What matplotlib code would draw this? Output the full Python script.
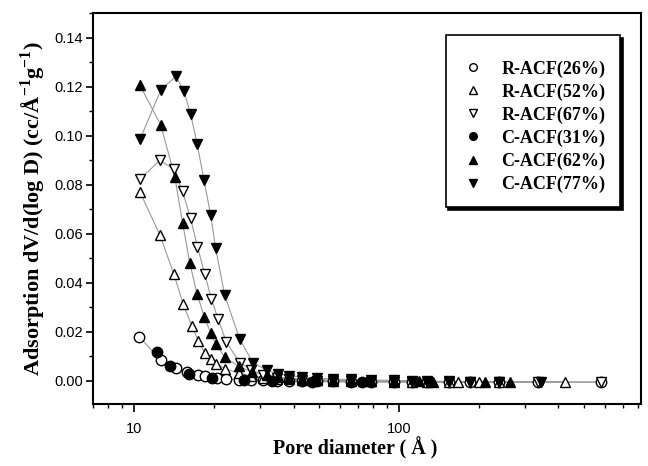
import matplotlib
matplotlib.use("Agg")
import matplotlib.pyplot as plt
from matplotlib.lines import Line2D
from matplotlib.ticker import NullFormatter, LogLocator, FormatStrFormatter, MultipleLocator

plt.rcParams["mathtext.fontset"] = "custom"
plt.rcParams["mathtext.rm"] = "Liberation Serif"
plt.rcParams["mathtext.bf"] = "Liberation Serif:bold"

# ---------------- data ----------------
labels = ["R-ACF(26%)", "R-ACF(52%)", "R-ACF(67%)", "C-ACF(31%)", "C-ACF(62%)", "C-ACF(77%)"]

r26_x = [10.47, 12.6, 14.4, 15.8, 17.45, 18.5, 20.5, 22.2, 24.9, 27.7, 30.6, 34.7, 38.4, 42.9,
         49.0, 56.2, 65.8, 78.3, 95.8, 112.0, 128.0, 154.0, 186.0, 238.0, 334.0, 578.0]
r26_y = [0.0180, 0.0083, 0.0052, 0.0034, 0.0024, 0.0018, 0.0011, 0.0007, 0.0004, 0.0002, 0.0001,
         0.0000, -0.0001, -0.0002, -0.0003, -0.0003, -0.0004, -0.0004, -0.0005, -0.0005, -0.0005,
         -0.0005, -0.0005, -0.0005, -0.0005, -0.0005]

r52_x = [10.53, 12.52, 14.14, 15.32, 16.52, 17.51, 18.48, 19.52, 20.46, 22.12, 24.89, 27.7, 30.6,
         34.7, 38.4, 42.9, 49.0, 56.2, 65.8, 78.3, 95.8, 112.0, 128.0, 154.0, 167.0, 200.0, 238.0, 424.0]
r52_y = [0.0770, 0.0594, 0.0435, 0.0313, 0.0224, 0.0160, 0.0115, 0.0088, 0.0069, 0.0048, 0.0031,
         0.0020, 0.0012, 0.0008, 0.0005, 0.0003, 0.0001, 0.0000, -0.0002, -0.0003, -0.0004, -0.0004,
         -0.0005, -0.0005, -0.0005, -0.0005, -0.0005, -0.0005]

r67_x = [10.53, 12.52, 14.14, 15.25, 16.34, 17.36, 18.48, 19.59, 20.74, 22.31, 25.04, 27.71, 30.63,
         34.69, 38.35, 42.93, 49.05, 56.15, 65.84, 78.29, 95.8, 112.0, 128.0, 154.0, 186.0, 238.0,
         334.0, 578.0]
r67_y = [0.0822, 0.0899, 0.0862, 0.0773, 0.0662, 0.0547, 0.0435, 0.0334, 0.0252, 0.0158, 0.0074,
         0.0045, 0.0024, 0.0011, 0.0007, 0.0004, 0.0000, -0.0003, -0.0003, -0.0005, -0.0005, -0.0006,
         -0.0006, -0.0006, -0.0006, -0.0006, -0.0006, -0.0006]

c31_x = [12.17, 13.66, 16.14, 19.64, 25.92, 33.22, 46.97, 72.3]
c31_y = [0.0117, 0.0062, 0.0028, 0.0011, 0.0004, 0.0000, -0.0004, -0.0005]

c62_x = [10.53, 12.63, 14.26, 15.25, 16.24, 17.30, 18.44, 19.47, 20.33, 21.98, 24.89, 28.0, 31.8,
         35.0, 38.5, 43.0, 49.0, 56.2, 65.8, 78.3, 95.8, 119.0, 135.0, 212.0, 263.0]
c62_y = [0.1205, 0.1042, 0.0831, 0.0644, 0.0479, 0.0353, 0.0259, 0.0194, 0.0151, 0.0096, 0.0058,
         0.0035, 0.0022, 0.0015, 0.0010, 0.0007, 0.0004, 0.0002, 0.0001, 0.0000, -0.0002, -0.0003,
         -0.0004, -0.0005, -0.0005]

c77_x = [10.53, 12.63, 14.38, 15.42, 16.34, 17.30, 18.37, 19.47, 20.33, 21.98, 25.04, 28.09, 31.82,
         34.99, 38.5, 43.0, 49.0, 56.2, 65.8, 78.3, 95.8, 112.0, 128.0, 154.0, 186.0, 238.0, 345.0]
c77_y = [0.0984, 0.1187, 0.1241, 0.1182, 0.1090, 0.0967, 0.0818, 0.0676, 0.0540, 0.0350, 0.0170,
         0.0074, 0.0042, 0.0028, 0.0020, 0.0015, 0.0010, 0.0007, 0.0005, 0.0003, 0.0001, 0.0000,
         -0.0002, -0.0003, -0.0004, -0.0005, -0.0005]

y_ticks = [0.00, 0.02, 0.04, 0.06, 0.08, 0.10, 0.12, 0.14]
x_ticks = [10, 100]
x_tick_labels = ["10", "100"]

series = [
    (r26_x, r26_y, "o", "white"),
    (r52_x, r52_y, "^", "white"),
    (r67_x, r67_y, "v", "white"),
    (c31_x, c31_y, "o", "black"),
    (c62_x, c62_y, "^", "black"),
    (c77_x, c77_y, "v", "black"),
]

# ---------------- figure ----------------
fig = plt.figure(figsize=(6.48, 4.66), dpi=100)
ax = fig.add_axes([93 / 648, 62 / 466, 548 / 648, 391 / 466])

for i, (xs, ys, m, fc) in enumerate(series):
    ax.plot(xs, ys, "-", color="0.6", lw=0.8, zorder=1)
for i, (xs, ys, m, fc) in enumerate(series):
    ax.plot(xs, ys, ls="none", marker=m, markersize=7.5, markerfacecolor=fc,
            markeredgecolor="black", markeredgewidth=1.0, zorder=2 + i)

ax.set_xscale("log")
ax.set_xlim(7, 820)
ax.set_ylim(-0.0095, 0.15)

ax.set_xticks(x_ticks)
ax.set_xticklabels(x_tick_labels)
ax.xaxis.set_minor_locator(LogLocator(base=10, subs=[2, 3, 4, 5, 6, 7, 8, 9]))
ax.xaxis.set_minor_formatter(NullFormatter())

ax.set_yticks(y_ticks)
ax.yaxis.set_major_formatter(FormatStrFormatter("%.2f"))
ax.yaxis.set_minor_locator(MultipleLocator(0.01))

for lab in ax.get_xticklabels() + ax.get_yticklabels():
    lab.set_fontfamily("Liberation Sans")
    lab.set_fontsize(10.5)

ax.tick_params(axis="y", which="major", direction="out", length=5, width=1.2, pad=2)
ax.tick_params(axis="x", which="major", direction="out", length=6, width=1.2, pad=7)
ax.tick_params(which="minor", direction="out", length=3, width=1.0)
ax.tick_params(which="both", top=False, right=False)

for sp in ax.spines.values():
    sp.set_linewidth(1.5)

ax.set_xlabel("Pore diameter ( Å )", family="Liberation Serif", weight="bold", size=14.5)
ax.xaxis.set_label_coords(0.478, -0.085)
ax.set_ylabel(r"Adsorption dV/d(log D) (cc/Å$^{\mathbf{-1}}$g$^{\mathbf{-1}}$)",
              family="Liberation Serif", weight="bold", size=16, labelpad=5)

handles = [Line2D([], [], ls="none", marker=m, markersize=5.5, markerfacecolor=fc,
                  markeredgecolor="black", markeredgewidth=1.0)
           for (xs, ys, m, fc) in series]
leg = ax.legend(handles, labels, loc="upper right",
                bbox_to_anchor=(620 / 648, 1 - 35 / 466), bbox_transform=fig.transFigure,
                borderaxespad=0, frameon=True, fancybox=False,
                shadow={"color": "black", "alpha": 1.0},
                title=" ", title_fontsize=4,
                prop={"family": "Liberation Serif", "weight": "bold", "size": 13},
                handlelength=1.4, handletextpad=0.9, borderpad=0.8, labelspacing=0.32)
leg.get_frame().set_edgecolor("black")
leg.get_frame().set_linewidth(1.2)

fig.savefig("out.png", dpi=100)
